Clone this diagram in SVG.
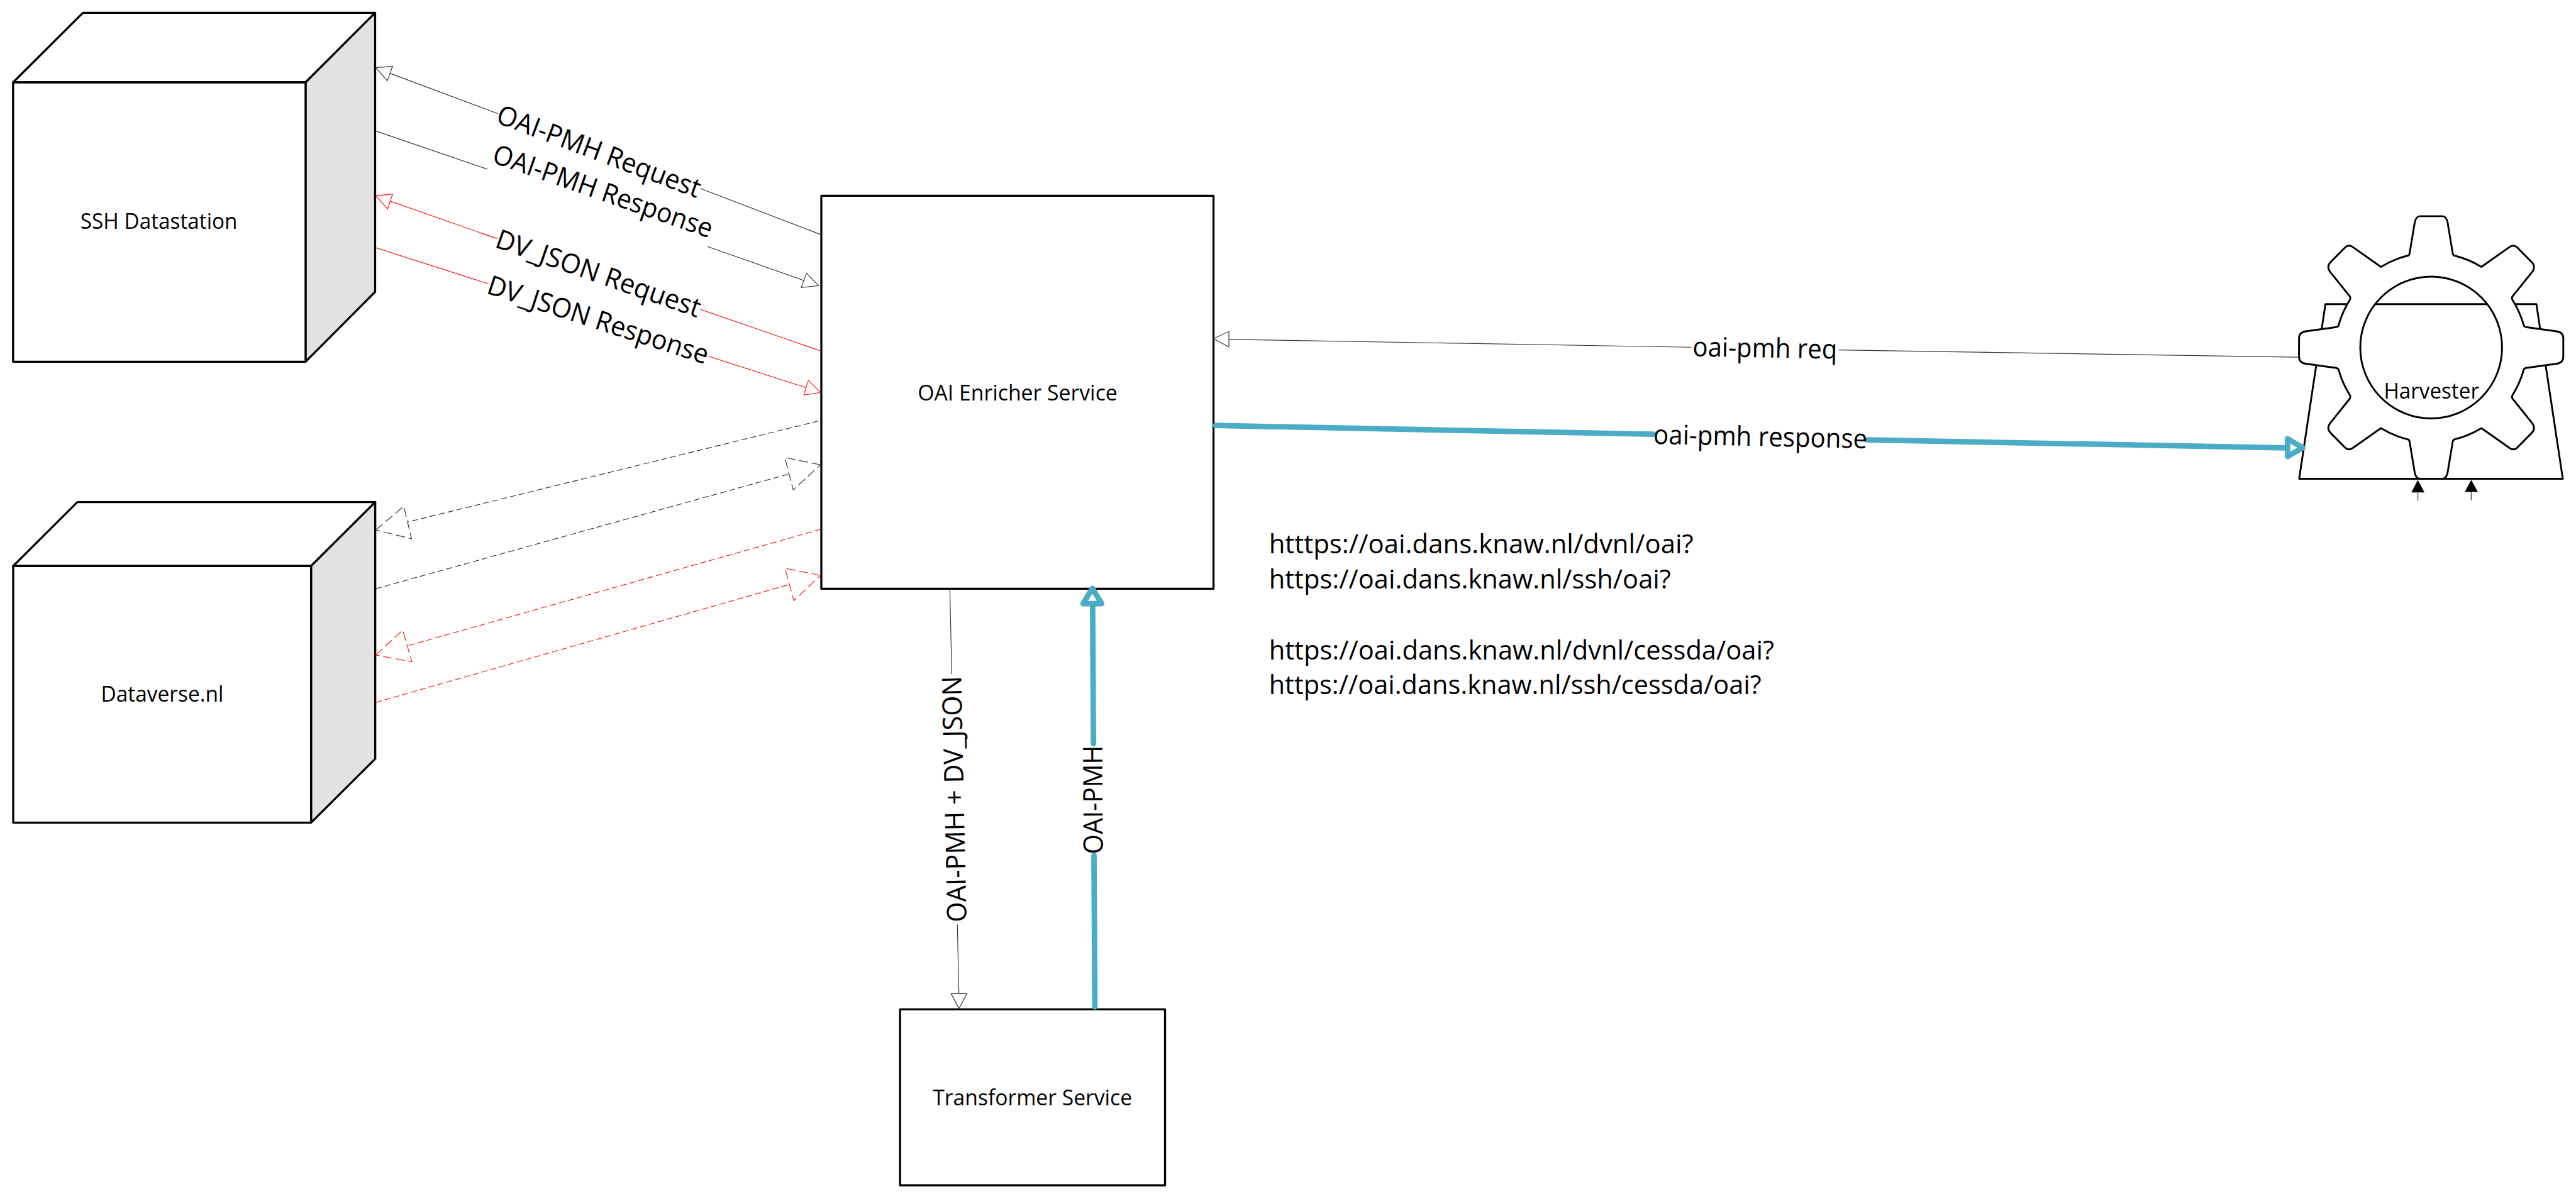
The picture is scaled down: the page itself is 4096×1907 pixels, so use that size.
<svg xmlns="http://www.w3.org/2000/svg" width="4096" height="1907" viewBox="0 0 4096 1907">
<style>
text{font-family:"Open Sans","Noto Sans","Liberation Sans",sans-serif;fill:#000}
.n{font-size:35px;text-anchor:middle}
.l{font-size:44px;text-anchor:middle}
.u{font-size:43px}
.box{fill:#fff;stroke:#000;stroke-width:3.4;stroke-linejoin:round}
.side{fill:#e2e2e2;stroke:#000;stroke-width:3.4;stroke-linejoin:round}
.g{fill:none;stroke:#333;stroke-width:1.2}
.r{fill:none;stroke:#f00;stroke-width:1.1}
.gh{fill:#fff;stroke:#333;stroke-width:1.2}
.rh{fill:#fff;stroke:#f00;stroke-width:1.1}
.d{stroke-dasharray:10 5}
.dh{stroke-dasharray:15 6}
.b{fill:none;stroke:#4bacc6;stroke-width:9;stroke-linecap:round}
.bh{fill:#fff;stroke:#4bacc6;stroke-width:9;stroke-linejoin:round}
.gear{fill:#fff;stroke:#000;stroke-width:3;stroke-linejoin:round}
</style>
<rect width="4096" height="1907" fill="#fff"/>
<g transform="scale(0.97177)">
<g id="ssh-datastation">
<path class="box" d="M21.4 134.8L135.7 21H613.8L500 134.8Z"/>
<path class="side" d="M500 134.8L613.8 21V477.7L500 592Z"/>
<rect class="box" x="21.4" y="134.8" width="478.6" height="457.2"/>
<text class="n" x="260" y="375" textLength="257" lengthAdjust="spacingAndGlyphs">SSH Datastation</text>
</g>
<g id="dataverse-nl">
<path class="box" d="M21.6 926.4L126.5 821.8H614L509 926.4Z"/>
<path class="side" d="M509 926.4L614 821.8V1242L509 1346.4Z"/>
<rect class="box" x="21.6" y="926.4" width="487.4" height="420"/>
<text class="n" x="265.4" y="1148" textLength="200.7" lengthAdjust="spacingAndGlyphs">Dataverse.nl</text>
</g>
<g id="oai-enricher">
<rect class="box" x="1343.9" y="320.4" width="641.7" height="643.2"/>
<text class="n" x="1665" y="655" textLength="326.7" lengthAdjust="spacingAndGlyphs">OAI Enricher Service</text>
</g>
<g id="transformer">
<rect class="box" x="1472.7" y="1652" width="433.6" height="288"/>
<text class="n" x="1689.4" y="1809" textLength="326" lengthAdjust="spacingAndGlyphs">Transformer Service</text>
</g>
<g id="harvester">
<path class="gear" d="M3805 497.8H4150.2L4193.4 783.7H3762Z"/>
<path class="gear" transform="translate(3978 568.8)" d="M-18 -214.9H18Q25.2 -214.9 27 -204L35.3 -154.2Q36 -150.2 38.9 -150.2A155 155 0 0 1 82.2 -132L127.9 -164.2Q134.4 -169.2 140.5 -164.2L165 -139.3Q171.2 -132.7 165.8 -124.4L133.3 -83.9Q130.5 -80.6 135.1 -74.6A155 155 0 0 1 151.4 -36.5Q152.1 -33.8 156.8 -33.2L205.4 -26.5Q216.2 -24.9 216.2 -14.9V14.9Q216.2 24.9 205.4 26.5L156.8 33.2Q152.1 33.8 151.4 36.5A155 155 0 0 1 135.1 74.6Q130.5 80.6 133.3 83.9L165.8 124.4Q171.2 132.7 165 139.3L140.5 164.2Q134.4 169.2 127.9 164.2L82.2 132A155 155 0 0 1 38.9 150.2Q36 150.2 35.3 154.2L27 204Q25.2 214.9 18 214.9H-18Q-25.2 214.9 -27 204L-35.3 154.2Q-36 150.2 -38.9 150.2A155 155 0 0 1 -82.2 132L-127.9 164.2Q-134.4 169.2 -140.5 164.2L-165 139.3Q-171.2 132.7 -165.8 124.4L-133.3 83.9Q-130.5 80.6 -135.1 74.6A155 155 0 0 1 -151.4 36.5Q-152.1 33.8 -156.8 33.2L-205.4 26.5Q-216.2 24.9 -216.2 14.9V-14.9Q-216.2 -24.9 -205.4 -26.5L-156.8 -33.2Q-152.1 -33.8 -151.4 -36.5A155 155 0 0 1 -135.1 -74.6Q-130.5 -80.6 -133.3 -83.9L-165.8 -124.4Q-171.2 -132.7 -165 -139.3L-140.5 -164.2Q-134.4 -169.2 -127.9 -164.2L-82.2 -132A155 155 0 0 1 -38.9 -150.2Q-36 -150.2 -35.3 -154.2L-27 -204Q-25.2 -214.9 -18 -214.9Z"/>
<circle class="gear" cx="3978" cy="568.8" r="116"/>
<path class="gear" d="M3886.3 497.8H4069.7"/>
<path fill="#000" d="M3956.3 785.3L3967 806H3945.5Z"/>
<path d="M3956.3 806V819.8" stroke="#333" stroke-width="1.2" fill="none"/>
<path fill="#000" d="M4043.5 785.3L4054.3 805H4033Z"/>
<path d="M4043.5 805V819" stroke="#333" stroke-width="1.2" fill="none"/>
<text class="n" x="3978.5" y="652.7" textLength="156" lengthAdjust="spacingAndGlyphs">Harvester</text>
</g>
<g id="connectors">
<path class="g" d="M638 120L814.6 186M1145.8 308.5L1342.7 383.7"/>
<polygon class="gh" points="614.8,110.8 642.4,108.5 633.8,132.2"/>
<path class="g" d="M614.8 214.4L797.4 276.9M1157.3 403.4L1315 459"/>
<polygon class="gh" points="1339.3,467.5 1319.7,447 1311,470.7"/>
<path class="r" d="M638 329L812.9 390.4M1145.8 506.3L1342.7 574.3"/>
<polygon class="rh" points="614.8,320.4 642.4,317.6 634.3,341.8"/>
<path class="r" d="M614.8 405.4L799.7 464.7M1159 583L1319 634.5"/>
<polygon class="rh" points="1342.7,642.3 1322.6,622.5 1315.2,646.6"/>
<path class="g d" d="M1339.3 689L667.6 854.3"/>
<polygon class="gh dh" points="614.8,867.5 660.7,828.6 673.4,881.8"/>
<path class="g d" d="M614.8 963.6L1291 775.7"/>
<polygon class="gh dh" points="1342.7,760.7 1284.2,748.9 1297.9,801.8"/>
<path class="r d" d="M1342.7 866.4L667.6 1056.8"/>
<polygon class="rh dh" points="614.8,1072.1 659,1031.4 673.9,1083.2"/>
<path class="r d" d="M614.8 1149.6L1291 956.8"/>
<polygon class="rh dh" points="1342.7,941.8 1284.2,930 1299,982.9"/>
<path class="g" d="M1554.2 963.7L1557.3 1103.3M1566.5 1513L1569 1626"/>
<polygon class="gh" points="1569.2,1650.7 1556.1,1626.3 1582.2,1626.3"/>
<path class="g" d="M2010.8 555.5L2767.5 568.3M3008.6 572.8L3760 584.7"/>
<polygon class="gh" points="1985.6,554.5 2010.8,542.4 2010.8,567.9"/>
<path class="b" d="M1791.5 1648L1790 1400M1789.2 1217L1787.8 990"/>
<polygon class="bh" points="1787.3,963 1802.7,988 1772.2,988"/>
<path class="b" d="M1989 696.4L2705.5 710.7M3055.6 720L3743 733"/>
<polygon class="bh" points="3768,733 3743,718 3743,747"/>
<text class="l" transform="translate(980 248) rotate(20.6) translate(0 15)" textLength="353" lengthAdjust="spacingAndGlyphs">OAI-PMH Request</text>
<text class="l" transform="translate(986.6 313.3) rotate(19.3) translate(0 15)" textLength="378" lengthAdjust="spacingAndGlyphs">OAI-PMH Response</text>
<text class="l" transform="translate(979.3 447.7) rotate(19.2) translate(0 15)" textLength="352" lengthAdjust="spacingAndGlyphs">DV_JSON Request</text>
<text class="l" transform="translate(978.8 523.7) rotate(18) translate(0 15)" textLength="378" lengthAdjust="spacingAndGlyphs">DV_JSON Response</text>
<text class="l" transform="translate(1562 1308) rotate(-91.25) translate(0 15)" textLength="403" lengthAdjust="spacingAndGlyphs">OAI-PMH + DV_JSON</text>
<text class="l" transform="translate(1789 1309) rotate(-90.3) translate(0 15)" textLength="178" lengthAdjust="spacingAndGlyphs">OAI-PMH</text>
<text class="l" transform="translate(2888 570) rotate(0.97) translate(0 15)" textLength="236.5" lengthAdjust="spacingAndGlyphs">oai-pmh req</text>
<text class="l" transform="translate(2880.5 715) rotate(1.17) translate(0 15)" textLength="350" lengthAdjust="spacingAndGlyphs">oai-pmh response</text>
</g>
<g id="urls">
<text class="u" x="2076.3" y="906" textLength="694.6" lengthAdjust="spacingAndGlyphs">htttps://oai.dans.knaw.nl/dvnl/oai?</text>
<text class="u" x="2076.3" y="963.4" textLength="657.7" lengthAdjust="spacingAndGlyphs">https://oai.dans.knaw.nl/ssh/oai?</text>
<text class="u" x="2076.3" y="1079" textLength="826.7" lengthAdjust="spacingAndGlyphs">https://oai.dans.knaw.nl/dvnl/cessda/oai?</text>
<text class="u" x="2076.3" y="1135.7" textLength="805.7" lengthAdjust="spacingAndGlyphs">https://oai.dans.knaw.nl/ssh/cessda/oai?</text>
</g>
</g>
</svg>
